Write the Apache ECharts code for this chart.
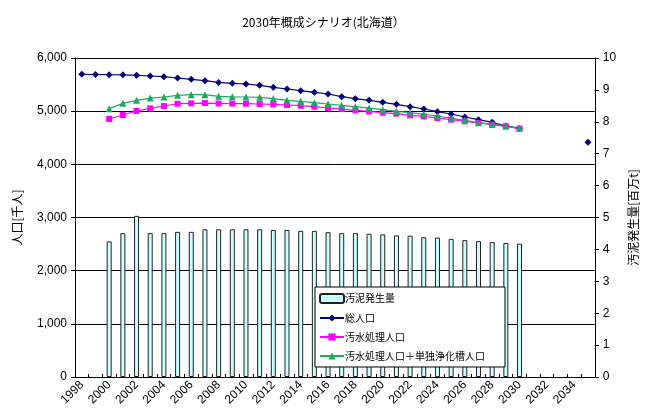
<!DOCTYPE html>
<html>
<head>
<meta charset="utf-8">
<script src="https://cdn.jsdelivr.net/npm/echarts@6/dist/echarts.min.js"></script>
<style>
html,body{margin:0;padding:0;background:#fff;}
#chart{width:647px;height:416px;}
</style>
</head>
<body>
<div id="chart"></div>
<script>
var years = ['1998','1999','2000','2001','2002','2003','2004','2005','2006','2007','2008','2009','2010','2011','2012','2013','2014','2015','2016','2017','2018','2019','2020','2021','2022','2023','2024','2025','2026','2027','2028','2029','2030','2031','2032','2033','2034','2035'];

// 汚泥発生量 [百万t] (right axis)
var sludge = [null,null,4.25,4.51,5.05,4.51,4.51,4.55,4.55,4.63,4.63,4.63,4.63,4.63,4.61,4.61,4.58,4.58,4.54,4.51,4.51,4.49,4.47,4.44,4.43,4.38,4.37,4.33,4.29,4.26,4.23,4.20,4.18,null,null,null,null,null];

// 総人口 [千人]
var totalPop = [5693,5690,5686,5683,5675,5661,5648,5624,5599,5573,5540,5524,5511,5486,5449,5417,5385,5354,5323,5272,5235,5204,5166,5129,5084,5041,4990,4947,4890,4840,4790,4721,4677,null,null,null,null,4414];

// 汚水処理人口 [千人]
var sewerPop = [null,null,4853,4928,5003,5053,5097,5140,5147,5153,5145,5142,5140,5135,5128,5116,5103,5084,5060,5040,5015,4995,4971,4953,4922,4903,4871,4840,4809,4778,4746,4715,4670,null,null,null,null,null];

// 汚水処理人口＋単独浄化槽人口 [千人]
var combinedPop = [null,null,5047,5147,5204,5247,5266,5298,5310,5310,5280,5270,5266,5260,5235,5204,5185,5160,5135,5110,5084,5059,5028,4997,4971,4940,4909,4865,4828,4784,4753,4721,4684,null,null,null,null,null];

var seriesNames = ['汚泥発生量','総人口','汚水処理人口','汚水処理人口＋単独浄化槽人口'];

var latin = '"Liberation Sans", Arial, "Noto Sans CJK JP", sans-serif';
var cjk = '"Noto Sans CJK JP", "Liberation Sans", sans-serif';

var chart = echarts.init(document.getElementById('chart'), null, {renderer:'canvas'});
chart.setOption({
  animation: false,
  backgroundColor: '#ffffff',
  title: {
    text: '2030年概成シナリオ(北海道）',
    left: 'center',
    top: 11,
    textStyle: {fontFamily: cjk, fontSize: 12, fontWeight: 'normal', color: '#000'}
  },
  legend: {
    orient: 'vertical',
    left: 315,
    top: 287,
    data: seriesNames,
    itemWidth: 24,
    itemHeight: 9,
    itemGap: 9,
    padding: [6, 20, 6, 4],
    backgroundColor: '#ffffff',
    borderColor: '#000',
    borderWidth: 1,
    textStyle: {fontFamily: cjk, fontSize: 10, color: '#000', padding: [0,0,0,-4]}
  },
  grid: {left: 75, right: 44, top: 58, bottom: 39, containLabel: false},
  xAxis: {
    type: 'category',
    data: years,
    boundaryGap: true,
    axisLine: {lineStyle: {color: '#000', width: 1}},
    axisTick: {show: true, inside: true, length: 3, interval: 0, lineStyle: {color: '#000'}},
    axisLabel: {interval: 1, rotate: 45, fontFamily: latin, fontSize: 12, color: '#000', margin: 6}
  },
  yAxis: [
    {
      type: 'value', min: 0, max: 6000, interval: 1000,
      name: '人口[千人]', nameLocation: 'middle', nameRotate: 90, nameGap: 52,
      nameTextStyle: {fontFamily: cjk, fontSize: 12, color: '#000'},
      axisLine: {show: true, lineStyle: {color: '#000', width: 1}},
      axisTick: {show: true, length: 4, lineStyle: {color: '#000'}},
      axisLabel: {fontFamily: latin, fontSize: 12, color: '#000', margin: 8,
        formatter: function(v){ return v.toLocaleString('en-US'); }},
      splitLine: {show: true, lineStyle: {color: '#000', width: 1}}
    },
    {
      type: 'value', min: 0, max: 10, interval: 1, position: 'right',
      name: '汚泥発生量[百万t]', nameLocation: 'middle', nameRotate: 90, nameGap: 32,
      nameTextStyle: {fontFamily: cjk, fontSize: 12, color: '#000'},
      axisLine: {show: true, lineStyle: {color: '#000', width: 1}},
      axisTick: {show: true, length: 4, lineStyle: {color: '#000'}},
      axisLabel: {fontFamily: latin, fontSize: 12, color: '#000', margin: 8},
      splitLine: {show: false}
    }
  ],
  series: [
    {
      name: seriesNames[0], type: 'bar', yAxisIndex: 1, data: sludge,
      barWidth: 5,
      itemStyle: {color: '#CCFFFF', borderColor: '#222', borderWidth: 1}
    },
    {
      name: seriesNames[1], type: 'line', yAxisIndex: 0, data: totalPop,
      symbol: 'diamond', symbolSize: 7, showSymbol: true, connectNulls: false,
      lineStyle: {color: '#000080', width: 1.2},
      itemStyle: {color: '#000080'}
    },
    {
      name: seriesNames[2], type: 'line', yAxisIndex: 0, data: sewerPop,
      symbol: 'rect', symbolSize: 6, showSymbol: true,
      lineStyle: {color: '#FF00FF', width: 1.2},
      itemStyle: {color: '#FF00FF'}
    },
    {
      name: seriesNames[3], type: 'line', yAxisIndex: 0, data: combinedPop,
      symbol: 'triangle', symbolSize: 7, showSymbol: true,
      lineStyle: {color: '#1AAA5E', width: 1.2},
      itemStyle: {color: '#1AAA5E'}
    }
  ]
});
</script>
</body>
</html>
